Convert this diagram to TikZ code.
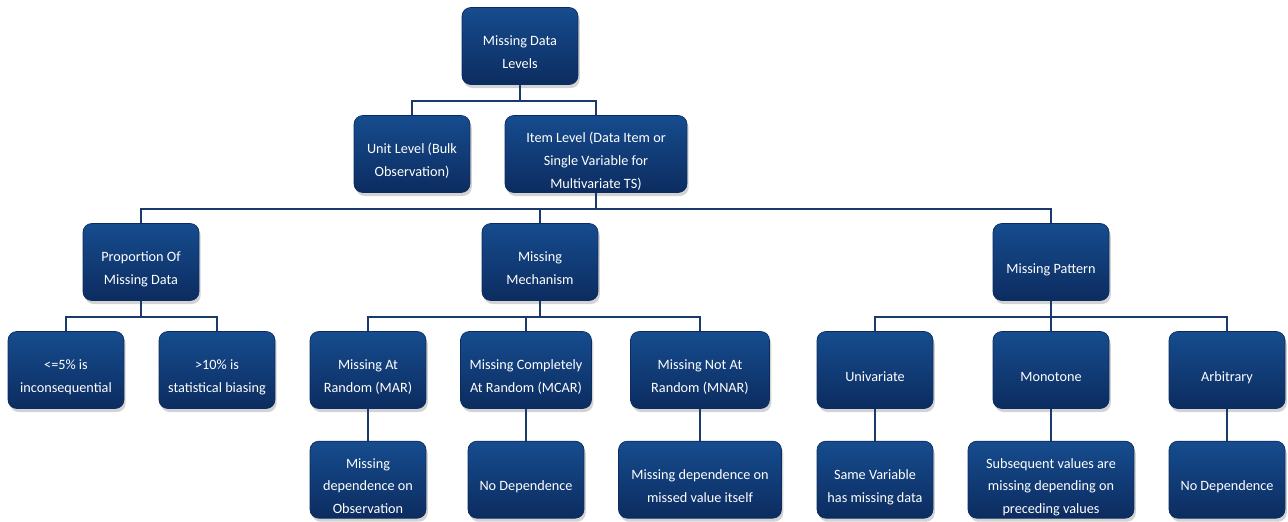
\documentclass[tikz,border=0pt]{standalone}
\usepackage{fontspec}
\setmainfont{Carlito}
\usepackage{tikz}
\usetikzlibrary{positioning, shadows}
\definecolor{boxtop}{RGB}{22,76,142}
\definecolor{boxbot}{RGB}{12,44,96}
\definecolor{linknavy}{RGB}{26,58,108}
% box text, set a little below the middle of the box
\newcommand{\lvltext}[1]{\raisebox{-5.8pt}[0pt][0pt]{\begin{tabular}{@{}c@{}}#1\end{tabular}}}

\begin{document}
\begin{tikzpicture}[x=0.02cm, y=-0.02cm,
        lvl/.style={rectangle, rounded corners=5pt, draw=boxbot, thin,
                    top color=boxtop, bottom color=boxbot, text=white,
                    minimum width=2.32cm, minimum height=1.54cm, inner sep=0pt,
                    font=\fontsize{8.1}{13}\selectfont,
                    drop shadow={shadow xshift=1pt, shadow yshift=-2pt, opacity=0.35}},
        conn/.style={draw=linknavy, line width=1.4pt}]
      \useasboundingbox (0,0) rectangle (1288,521);
      % top levels
      \node[lvl] (root) at (520,46) {\lvltext{Missing Data\\Levels}};
      \node[lvl] (unit) at (412,154) {\lvltext{Unit Level (Bulk\\Observation)}};
      \node[lvl, minimum width=3.64cm] (item) at (596,154) {\lvltext{Item Level (Data Item or\\Single Variable for\\Multivariate TS)}};

      % second level
      \node[lvl] (prop) at (141,262) {\lvltext{Proportion Of\\Missing Data}};
      \node[lvl] (mech) at (540,262) {\lvltext{Missing\\Mechanism}};
      \node[lvl] (patt) at (1051,262) {\lvltext{Missing Pattern}};

      % third level
      \node[lvl] (low) at (66,370) {\lvltext{<=5\% is\\inconsequential}};
      \node[lvl] (high) at (217,370) {\lvltext{>10\% is\\statistical biasing}};
      \node[lvl] (mar) at (368,370) {\lvltext{Missing At\\Random (MAR)}};
      \node[lvl, minimum width=2.62cm] (mcar) at (526,370) {\lvltext{Missing Completely\\At Random (MCAR)}};
      \node[lvl, minimum width=2.78cm] (mnar) at (700,370) {\lvltext{Missing Not At\\Random (MNAR)}};
      \node[lvl] (univ) at (875,370) {\lvltext{Univariate}};
      \node[lvl] (mono) at (1051,370) {\lvltext{Monotone}};
      \node[lvl] (arb) at (1227,370) {\lvltext{Arbitrary}};

      % leaves
      \node[lvl, below=0.64cm of mar] (marleaf) {\lvltext{Missing\\dependence on\\Observation}};
      \node[lvl, below=0.64cm of mcar] (mcarleaf) {\lvltext{No Dependence}};
      \node[lvl, below=0.64cm of mnar, minimum width=3.26cm] (mnarleaf) {\lvltext{Missing dependence on\\missed value itself}};
      \node[lvl, below=0.64cm of univ] (univleaf) {\lvltext{Same Variable\\has missing data}};
      \node[lvl, below=0.64cm of mono, minimum width=3.32cm] (monoleaf) {\lvltext{Subsequent values are\\missing depending on\\preceding values}};
      \node[lvl, below=0.64cm of arb] (arbleaf) {\lvltext{No Dependence}};

      % connectors
      \foreach \a/\b in {root/unit, root/item, item/prop, item/mech, item/patt,
                         prop/low, prop/high, mech/mar, mech/mcar, mech/mnar,
                         patt/univ, patt/mono, patt/arb}
        \draw[conn] (\a.south) -- ++(0,16) -| (\b.north);
      \foreach \a in {mar, mcar, mnar, univ, mono, arb}
        \draw[conn] (\a.south) -- (\a leaf.north);
    \end{tikzpicture}
\end{document}
